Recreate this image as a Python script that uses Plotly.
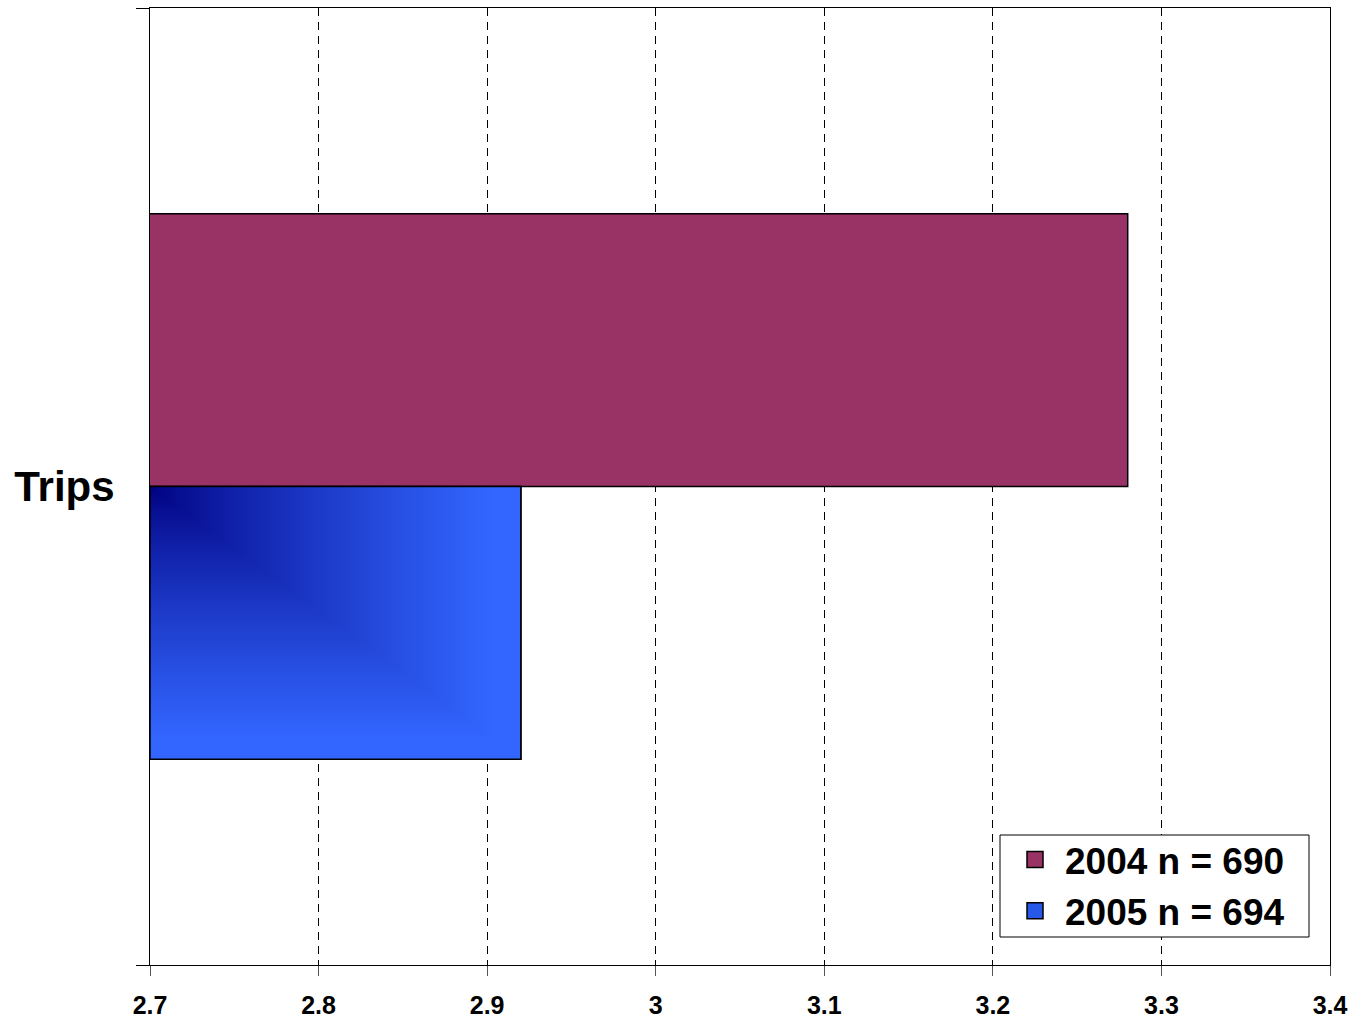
import base64
import struct
import zlib

import numpy as np
import plotly.graph_objects as go

# ---- data ----
category = ["Trips"]
series_names = ["2004 n = 690", "2005 n = 694"]
values_2004 = [3.28]
values_2005 = [2.92]
x_tick_vals = [2.7, 2.8, 2.9, 3.0, 3.1, 3.2, 3.3, 3.4]
x_tick_text = ["2.7", "2.8", "2.9", "3", "3.1", "3.2", "3.3", "3.4"]

# ---- styles ----
FONT = "Liberation Sans, Arial, sans-serif"
C2004 = "#993366"
C2005 = "#3366FF"
C2005_LEG = "#2858E8"
NAVY = np.array([0, 0, 128], dtype=float)
BRIGHT = np.array([51, 102, 255], dtype=float)
X0 = 2.7
BAR_W = 0.285
# plot area in pixels (for placing the legend box in paper coordinates)
PL, PR, PT, PB = 150, 1330, 8, 965


def px_x(px):
    return (px - PL) / (PR - PL)


def px_y(py):
    return (PB - py) / (PB - PT)


def gradient_png(w, h):
    """Excel-like 'from corner' gradient: dark at top-left, bright elsewhere."""
    u = np.linspace(0, 1, w)[None, :]
    v = np.linspace(0, 1, h)[:, None]
    t = np.maximum(u, v)
    t = np.clip(t / 0.92, 0, 1) ** 0.8
    img = NAVY[None, None, :] + (BRIGHT - NAVY)[None, None, :] * t[:, :, None]
    img = img.astype(np.uint8)
    raw = b"".join(b"\x00" + img[r].tobytes() for r in range(h))

    def chunk(tag, data):
        c = struct.pack(">I", len(data)) + tag + data
        return c + struct.pack(">I", zlib.crc32(tag + data) & 0xFFFFFFFF)

    png = b"\x89PNG\r\n\x1a\n"
    png += chunk(b"IHDR", struct.pack(">IIBBBBB", w, h, 8, 2, 0, 0, 0))
    png += chunk(b"IDAT", zlib.compress(raw, 9))
    png += chunk(b"IEND", b"")
    return "data:image/png;base64," + base64.b64encode(png).decode()


fig = go.Figure()
fig.add_trace(go.Bar(
    name=series_names[0], y=[0], x=values_2004, orientation="h",
    offset=0, width=BAR_W, showlegend=False,
    marker=dict(color=C2004, line=dict(color="black", width=1.5)),
))
fig.add_trace(go.Bar(
    name=series_names[1], y=[0], x=values_2005, orientation="h",
    offset=-BAR_W, width=BAR_W, showlegend=False,
    marker=dict(color=C2005, line=dict(color="black", width=1.5)),
))
# legend entries with larger square swatches
for nm, col in zip(series_names, [C2004, C2005_LEG]):
    fig.add_trace(go.Scatter(
        name=nm, x=[None], y=[None], mode="markers",
        marker=dict(symbol="square", size=16, color=col,
                    line=dict(color="black", width=1.5)),
    ))

# gradient fill for the 2005 bar, placed in data coordinates
fig.add_layout_image(dict(
    source=gradient_png(371, 274), xref="x", yref="y",
    x=X0, y=0, sizex=values_2005[0] - X0, sizey=BAR_W,
    xanchor="left", yanchor="top", sizing="stretch", layer="above",
))
fig.add_shape(type="rect", xref="x", yref="y",
              x0=X0, x1=values_2005[0], y0=-BAR_W, y1=0,
              line=dict(color="black", width=1.5), layer="above")

# legend frame
fig.add_shape(type="rect", xref="paper", yref="paper",
              x0=px_x(1000), x1=px_x(1309), y0=px_y(937), y1=px_y(835),
              fillcolor="white", line=dict(color="black", width=1),
              layer="above")

fig.update_layout(
    width=1353, height=1021,
    margin=dict(l=PL, r=1353 - PR, t=PT, b=1021 - PB, pad=0),
    paper_bgcolor="white", plot_bgcolor="white",
    barmode="overlay",
    font=dict(family=FONT, color="black"),
    showlegend=True,
    legend=dict(
        x=px_x(1005), y=px_y(829),
        xanchor="left", yanchor="top",
        bgcolor="rgba(0,0,0,0)", borderwidth=0,
        font=dict(family=FONT, size=37, color="black", weight="bold"),
        traceorder="normal", itemwidth=50, itemsizing="trace",
        tracegroupgap=0,
    ),
    xaxis=dict(
        range=[2.7, 3.4], tickvals=x_tick_vals, ticktext=x_tick_text,
        automargin=False,
        showline=True, linecolor="black", linewidth=1, mirror=True,
        ticks="outside", ticklen=10, tickcolor="#555555", tickwidth=1,
        ticklabelstandoff=8,
        showgrid=True, gridcolor="black", gridwidth=1, griddash="8px,6px",
        zeroline=False,
        tickfont=dict(family=FONT, size=25, color="black", weight="bold"),
    ),
    yaxis=dict(
        range=[-0.5, 0.5], tickvals=[0], ticktext=category,
        automargin=False,
        showline=True, linecolor="black", linewidth=1, mirror=True,
        ticks="", showgrid=False, zeroline=False,
        ticklabelstandoff=26,
        tickfont=dict(family=FONT, size=42, color="black", weight="bold"),
        minor=dict(tickvals=[-0.5, 0.5], ticks="outside", ticklen=13,
                   tickcolor="black", tickwidth=1,
                   showgrid=True, gridcolor="black", gridwidth=1),
    ),
)

fig.write_html("out.html", config={"displayModeBar": False},
               post_script="document.body.style.margin='0';")
